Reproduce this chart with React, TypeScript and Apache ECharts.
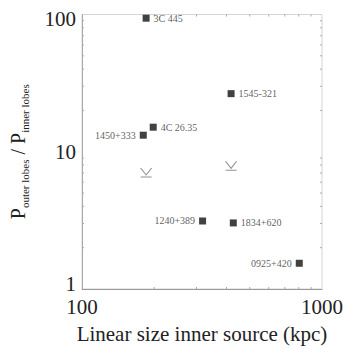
import React, { useEffect, useRef } from "react";
import * as echarts from "echarts";

const names = ["3C 445", "1545-321", "1450+333", "4C 26.35", "1240+389", "1834+620", "0925+420"];
const sizes = [185, 418, 180, 198, 318, 427, 804];
const ratios = [94, 26.5, 13.2, 15.1, 3.13, 3.03, 1.54];
const labelSide = ["right", "right", "left", "right", "left", "right", "left"];
const limitSizes = [185, 418];
const limitRatios = [7.06, 7.9];
const xMinorTicks = [200, 300, 400, 500, 600, 700, 800, 900];
const yMinorTicks = [2, 3, 4, 5, 6, 7, 8, 9, 20, 30, 40, 50, 60, 70, 80, 90];

const FONT = "Liberation Serif, Times New Roman, serif";
const TICK = "#aaa";

export default function App() {
  const ref = useRef<HTMLDivElement>(null);
  useEffect(() => {
    const chart = echarts.init(ref.current!, null, { renderer: "svg" });
    const tickLine = (x1: number, y1: number, x2: number, y2: number) => ({
      type: "line",
      shape: { x1, y1, x2, y2 },
      style: { stroke: TICK, lineWidth: 1 },
    });
    chart.setOption({
      animation: false,
      grid: {
        left: 80,
        right: 25,
        top: 13,
        bottom: 57,
        containLabel: false,
        show: true,
        borderColor: "#d4d4d4",
        borderWidth: 1,
      },
      xAxis: {
        type: "log",
        logBase: 10,
        min: 100,
        max: 1000,
        name: "Linear size inner source (kpc)",
        nameLocation: "middle",
        nameGap: 34,
        nameTextStyle: { fontFamily: FONT, fontSize: 21, color: "#222" },
        axisLine: { lineStyle: { color: "#999", width: 1 } },
        axisTick: { show: false },
        splitLine: { show: false },
        axisLabel: {
          fontFamily: FONT,
          fontSize: 21,
          color: "#222",
          margin: 7,
          formatter: (v: number) => String(Math.round(v)),
        },
      },
      yAxis: {
        type: "log",
        logBase: 10,
        min: 1,
        max: 100,
        name: "{p|P}{s|outer lobes}{p| / P}{s|inner lobes}",
        nameLocation: "middle",
        nameRotate: 90,
        nameGap: 52,
        nameTextStyle: {
          fontFamily: FONT,
          color: "#222",
          rich: {
            p: { fontFamily: FONT, fontSize: 20, color: "#222", lineHeight: 24, verticalAlign: "middle" },
            s: { fontFamily: FONT, fontSize: 11, color: "#222", lineHeight: 24, verticalAlign: "bottom", padding: [9, 0, 0, 0] },
          },
        },
        axisLine: { lineStyle: { color: "#aaa", width: 1 } },
        axisTick: { show: false },
        splitLine: { show: false },
        axisLabel: {
          fontFamily: FONT,
          fontSize: 21,
          color: "#222",
          margin: 6,
          formatter: (v: number) => {
            const r = Math.round(v);
            if (r === 1) return "{lo|1}";
            if (r === 100) return "{hi|100}";
            return "{n|" + r + "}";
          },
          rich: {
            lo: { fontFamily: FONT, fontSize: 21, color: "#222", lineHeight: 20, padding: [0, 0, 10, 0] },
            hi: { fontFamily: FONT, fontSize: 21, color: "#222", lineHeight: 20, padding: [8, 0, 0, 0] },
            n: { fontFamily: FONT, fontSize: 21, color: "#222", lineHeight: 20 },
          },
        },
      },
      series: [
        {
          type: "custom",
          silent: true,
          clip: false,
          data: xMinorTicks.map((v) => [v, 1]),
          renderItem: (params: any, api: any) => {
            const v = api.value(0);
            const b = api.coord([v, 1]);
            const t = api.coord([v, 100]);
            return {
              type: "group",
              children: [
                tickLine(b[0], b[1], b[0], b[1] - 2),
                tickLine(t[0], t[1], t[0], t[1] + 2),
              ],
            };
          },
        },
        {
          type: "custom",
          silent: true,
          clip: false,
          data: yMinorTicks.map((v) => [100, v]),
          encode: { x: 0, y: 1 },
          renderItem: (params: any, api: any) => {
            const v = api.value(1);
            const l = api.coord([100, v]);
            const r = api.coord([1000, v]);
            return {
              type: "group",
              children: [
                tickLine(l[0], l[1], l[0] + 2, l[1]),
                tickLine(r[0], r[1], r[0] - 2, r[1]),
              ],
            };
          },
        },
        {
          type: "scatter",
          symbol: "rect",
          symbolSize: 7,
          itemStyle: { color: "#111" },
          data: sizes.map((x, i) => ({
            value: [x, ratios[i]],
            label: {
              show: true,
              position: labelSide[i],
              distance: 4,
              formatter: names[i],
              fontFamily: FONT,
              fontSize: 10,
              color: "#333",
            },
          })),
        },
        {
          type: "scatter",
          symbol: "path://M0,0L5,7L10,0M0,9L10,9",
          symbolSize: [11, 9],
          itemStyle: { color: "rgba(0,0,0,0)", borderColor: "#777", borderWidth: 1 },
          data: limitSizes.map((x, i) => [x, limitRatios[i]]),
        },
      ],
    });
    return () => chart.dispose();
  }, []);
  return <div ref={ref} style={{ width: 347, height: 349, position: "absolute", left: 0, top: 0 }} />;
}
